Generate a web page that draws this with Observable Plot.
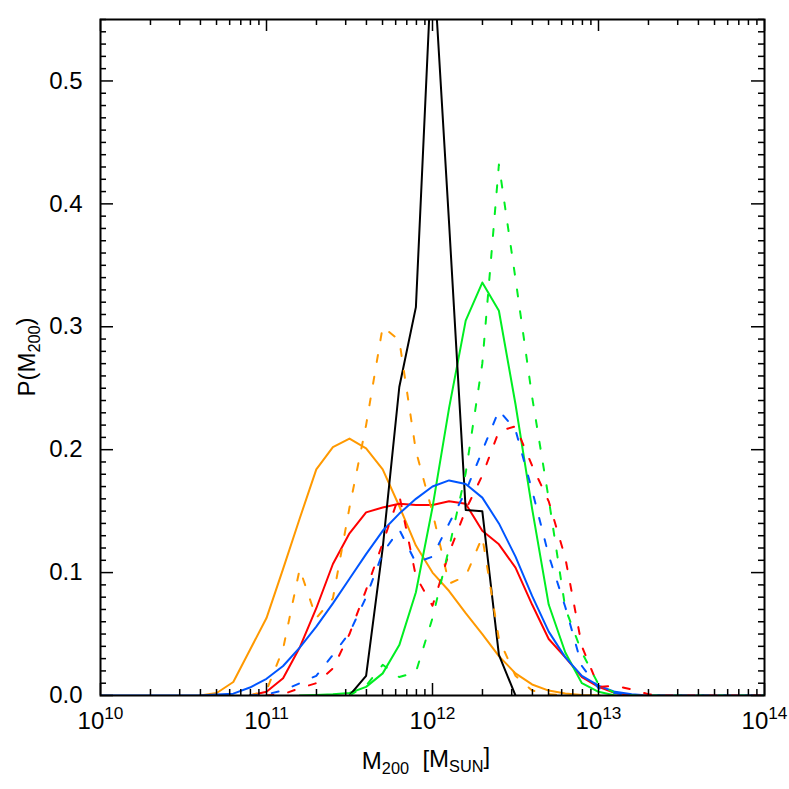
<!DOCTYPE html>
<html><head><meta charset="utf-8">
<script src="https://cdn.jsdelivr.net/npm/d3@7"></script>
<script src="https://cdn.jsdelivr.net/npm/@observablehq/plot@0.6"></script>
<style>body{margin:0;background:#fff;}</style>
</head><body><div id="chart"></div>
<script>
// log10 of M200 [M_sun] bin centres
const logMass = [10.0,10.1,10.2,10.3,10.4,10.5,10.6,10.7,10.8,10.9,
                 11.0,11.1,11.2,11.3,11.4,11.5,11.6,11.7,11.8,11.9,
                 12.0,12.1,12.2,12.3,12.4,12.5,12.6,12.7,12.8,12.9,
                 13.0,13.1,13.2,13.3,13.4,13.5,13.6,13.7,13.8,13.9,14.0];

const orangeSolid = [0,0,0,0,0,0,0,0.002,0.011,0.037,
                     0.063,0.103,0.144,0.184,0.202,0.209,0.201,0.184,0.154,0.122,
                     0.100,0.085,0.067,0.050,0.032,0.018,0.009,0.004,0.0016,0.0005,
                     0,0,0,0,0,0,0,0,0,0,0];
const orangeDash  = [0,0,0,0,0,0,0,0,0,0,
                     0.004,0.038,0.103,0.063,0.079,0.153,0.220,0.300,0.289,0.199,
                     0.149,0.091,0.097,0.129,0.046,0.016,0.004,0.001,0,0,
                     0,0,0,0,0,0,0,0,0,0,0];
const redSolid    = [0,0,0,0,0,0,0,0,0,0,
                     0.003,0.014,0.039,0.071,0.107,0.132,0.149,0.153,0.156,0.155,
                     0.155,0.158,0.156,0.134,0.123,0.104,0.074,0.046,0.031,0.015,
                     0.007,0.002,0,0,0,0,0,0,0,0,0];
const redDash     = [0,0,0,0,0,0,0,0,0,0,
                     0,0.001,0.006,0.010,0.022,0.050,0.086,0.124,0.163,0.097,
                     0.073,0.116,0.151,0.179,0.215,0.219,0.187,0.158,0.112,0.040,
                     0.007,0.008,0.005,0.001,0,0,0,0,0,0,0];
const greenSolid  = [0,0,0,0,0,0,0,0,0,0,
                     0,0,0,0.0005,0.001,0.002,0.007,0.018,0.041,0.084,
                     0.153,0.234,0.305,0.336,0.313,0.237,0.152,0.074,0.035,0.010,
                     0.003,0,0,0,0,0,0,0,0,0,0];
const greenDash   = [0,0,0,0,0,0,0,0,0,0,
                     0,0,0,0,0,0,0.008,0.025,0.015,0.019,
                     0.063,0.120,0.181,0.270,0.432,0.339,0.243,0.160,0.071,0.035,
                     0.009,0.002,0,0,0,0,0,0,0,0,0];
const blueSolid   = [0,0,0,0,0,0,0,0.0008,0.0015,0.0065,
                     0.0136,0.024,0.039,0.056,0.075,0.095,0.115,0.134,0.148,0.160,
                     0.170,0.175,0.172,0.161,0.140,0.113,0.081,0.052,0.031,0.016,
                     0.008,0.003,0.001,0,0,0,0,0,0,0,0];
const blueDash    = [0,0,0,0,0,0,0,0,0,0,
                     0.001,0.004,0.010,0.016,0.033,0.051,0.080,0.116,0.135,0.108,
                     0.113,0.140,0.166,0.199,0.232,0.216,0.167,0.114,0.072,0.024,
                     0.006,0.002,0,0,0,0,0,0,0,0,0];
const blackSolid  = [0,0,0,0,0,0,0,0,0,0,
                     0,0,0,0,0,0,0.016,0.120,0.251,0.316,
                     0.610,0.384,0.151,0.150,0.033,0,0,0,0,0,
                     0,0,0,0,0,0,0,0,0,0,0];

const xTickExponents = [10, 11, 12, 13, 14];
const yTickValues = [0.0, 0.1, 0.2, 0.3, 0.4, 0.5];

// drawing order & styles
const series = [
  {values: orangeSolid, color: "#FF9900", dashed: false},
  {values: redSolid,    color: "#FF0000", dashed: false},
  {values: greenSolid,  color: "#00EE22", dashed: false},
  {values: blackSolid,  color: "#000000", dashed: false},
  {values: blueSolid,   color: "#0055FF", dashed: false, full: true},
  {values: orangeDash,  color: "#FF9900", dashed: true},
  {values: redDash,     color: "#FF0000", dashed: true},
  {values: greenDash,   color: "#00EE22", dashed: true},
  {values: blueDash,    color: "#0055FF", dashed: true}
];

const W = 789, H = 789;
const mL = 100, mR = 25, mT = 19, mB = 94;
const innerW = W - mL - mR, innerH = H - mT - mB;

function rowsFor(s) {
  const v = s.values;
  let lo = v.findIndex(d => d > 0), hi = v.length - 1 - [...v].reverse().findIndex(d => d > 0);
  lo = s.full ? 0 : Math.max(0, lo - 1);
  hi = (s.full || s.dashed) ? v.length - 1 : Math.min(v.length - 1, hi + 1);
  const out = [];
  for (let i = lo; i <= hi; i++) out.push({M: Math.pow(10, logMass[i]), P: v[i]});
  return out;
}

const lineMarks = series.map(s => Plot.line(rowsFor(s), {
  x: "M", y: "P", stroke: s.color, strokeWidth: 2,
  strokeDasharray: s.dashed ? "7,15" : null, clip: true
}));

const majorX = xTickExponents.map(e => Math.pow(10, e));
const minorX = xTickExponents.slice(0, -1).flatMap(e => [2,3,4,5,6,7,8,9].map(m => m * Math.pow(10, e)));
const minorY = d3.range(1, 56).map(i => i / 100).filter(v => Math.round(v * 100) % 10 !== 0);

const tickStyle = {strokeWidth: 1.5, stroke: "black"};
const plot = Plot.plot({
  width: W, height: H,
  marginLeft: mL, marginRight: mR, marginTop: mT, marginBottom: mB,
  style: {fontFamily: "'Liberation Sans', Arial, sans-serif", background: "white", color: "black"},
  x: {type: "log", domain: [1e10, 1e14]},
  y: {domain: [0, 0.55]},
  marks: [
    ...lineMarks,
    Plot.frame({stroke: "black", strokeWidth: 2}),
    // inward ticks on all four sides
    Plot.tickX(majorX, {x: d => d, insetTop: innerH - 12, ...tickStyle}),
    Plot.tickX(majorX, {x: d => d, insetBottom: innerH - 12, ...tickStyle}),
    Plot.tickX(minorX, {x: d => d, insetTop: innerH - 6, ...tickStyle}),
    Plot.tickX(minorX, {x: d => d, insetBottom: innerH - 6, ...tickStyle}),
    Plot.tickY(yTickValues, {y: d => d, insetRight: innerW - 13, ...tickStyle}),
    Plot.tickY(yTickValues, {y: d => d, insetLeft: innerW - 13, ...tickStyle}),
    Plot.tickY(minorY, {y: d => d, insetRight: innerW - 6, ...tickStyle}),
    Plot.tickY(minorY, {y: d => d, insetLeft: innerW - 6, ...tickStyle}),
    Plot.axisX({ticks: majorX, tickSize: 0, tickPadding: 16, fontSize: 24, label: null,
      tickFormat: d => "10|" + Math.round(Math.log10(d))}),
    Plot.axisY({ticks: yTickValues, tickSize: 0, tickPadding: 18, fontSize: 24, label: null,
      tickFormat: d3.format(".1f")})
  ]
});

const svg = d3.select(plot);
// superscript exponents on x tick labels
svg.selectAll('g[aria-label="x-axis tick label"] text').each(function() {
  const [b, e] = this.textContent.split("|");
  const t = d3.select(this);
  t.text(null);
  t.append("tspan").text(b);
  t.append("tspan").attr("dy", "-0.55em").attr("font-size", "0.72em").text(e);
});

// axis titles with subscripts
const xt = svg.append("text")
  .attr("x", mL + innerW / 2 - 6).attr("y", H - 20)
  .attr("text-anchor", "middle").attr("font-size", 24).attr("fill", "black");
xt.append("tspan").text("M");
xt.append("tspan").attr("dy", "0.3em").attr("font-size", "0.68em").text("200");
xt.append("tspan").attr("dy", "-0.3em").text("\u00a0\u00a0[M");
xt.append("tspan").attr("dy", "0.3em").attr("font-size", "0.68em").text("SUN");
xt.append("tspan").attr("dy", "-0.3em").text("]");

const yt = svg.append("text")
  .attr("transform", `translate(35,${mT + innerH / 2}) rotate(-90)`)
  .attr("text-anchor", "middle").attr("font-size", 24).attr("fill", "black");
yt.append("tspan").text("P(M");
yt.append("tspan").attr("dy", "0.3em").attr("font-size", "0.68em").text("200");
yt.append("tspan").attr("dy", "-0.3em").text(")");

document.getElementById("chart").appendChild(plot);
</script>
</body></html>
